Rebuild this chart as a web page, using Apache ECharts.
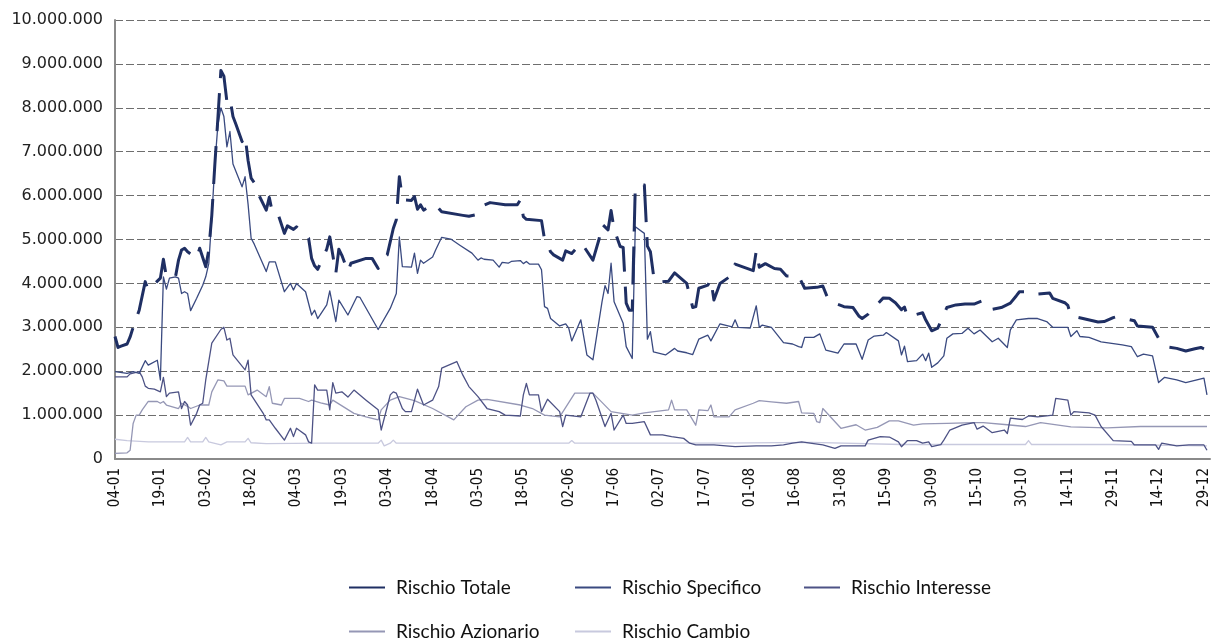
<!DOCTYPE html>
<html>
<head>
<meta charset="utf-8">
<script src="https://cdn.jsdelivr.net/npm/echarts@6/dist/echarts.min.js"></script>
<style>
  html, body { margin: 0; padding: 0; background: #ffffff; }
  #chart { width: 1212px; height: 639px; }
</style>
</head>
<body>
<div id="chart"></div>
<script>
// Giorni contati dal 04-01; valori in milioni di euro.
const UNIT = 1000000;

const tickLabels = ['04-01','19-01','03-02','18-02','04-03','19-03','03-04','18-04','03-05','18-05',
  '02-06','17-06','02-07','17-07','01-08','16-08','31-08','15-09','30-09','15-10','30-10','14-11',
  '29-11','14-12','29-12'];

const seriesNames = ['Rischio Totale','Rischio Specifico','Rischio Interesse','Rischio Azionario','Rischio Cambio'];

const totaleDays = [0,1,2,4,5,6,8,10,11,15,16,17,20,21,22,23,24,27,28,30,31,32,33,34,35,36,37,38,39,40,42,43,44,45,46,47,50,51,52,53,54,56,57,59,60,62,64,65,66,67,70,71,73,74,75,77,78,83,85,87,88,90,92,93,94,95,96,98,99,100,101,102,104,106,108,115,117,119,121,122,124,129,133,134,135,136,141,142,143,144,145,148,149,151,154,155,158,160,161,163,164,165,167,168,169,170,171,172,175,176,177,178,179,183,185,189,191,192,193,196,197,198,200,204,205,211,212,213,215,218,220,222,226,228,232,234,236,241,244,246,247,249,250,254,256,258,260,261,262,267,268,270,272,275,278,281,284,287,290,293,296,298,299,302,304,309,310,314,315,316,320,325,327,330,331,337,338,343,345,348,351,354,357,359,360];
const totaleValues = [2.79,2.54,2.57,2.62,2.78,3.00,3.39,4.04,3.85,4.12,4.55,4.15,4.15,4.53,4.76,4.80,4.72,4.57,4.80,4.38,4.76,5.55,6.70,7.75,8.85,8.72,8.14,8.22,7.80,7.62,7.23,7.36,6.80,6.40,6.30,6.09,5.67,5.96,5.62,5.63,5.56,5.14,5.31,5.23,5.29,5.16,5.03,4.57,4.40,4.32,4.78,5.06,4.23,4.78,4.64,4.27,4.46,4.57,4.57,4.34,4.50,4.65,5.25,5.45,6.43,5.94,5.90,5.89,5.98,5.69,5.79,5.67,5.75,5.79,5.63,5.55,5.53,5.56,5.63,5.78,5.84,5.79,5.79,5.90,5.52,5.46,5.43,5.00,4.88,4.72,4.65,4.53,4.74,4.68,4.91,4.84,4.53,5.00,5.35,5.22,5.66,5.23,4.84,4.82,3.55,3.39,3.39,6.20,6.24,4.85,4.72,4.20,4.02,4.05,4.24,4.00,3.45,3.47,3.89,3.96,4.09,3.62,4.00,4.19,4.44,4.29,4.74,4.37,4.45,4.34,4.32,4.17,4.17,3.89,3.91,3.94,3.60,3.47,3.45,3.25,3.20,3.30,3.38,3.67,3.66,3.56,3.40,3.46,3.24,3.33,3.17,2.92,2.98,3.45,3.51,3.53,3.53,3.61,3.41,3.45,3.55,3.72,3.81,3.81,3.75,3.78,3.66,3.56,3.50,3.26,3.20,3.12,3.13,3.22,3.24,3.15,3.03,3.00,2.75,2.55,2.52,2.46,2.51,2.54,2.51];

const specificoDays = [0,4,6,8,10,11,14,15,16,17,18,20,21,22,23,24,25,27,29,30,31,32,33,34,35,36,37,38,39,42,43,44,45,46,50,51,53,56,58,59,60,63,65,66,67,70,71,73,74,77,80,81,87,91,93,94,95,98,99,100,101,102,105,106,108,111,114,118,120,121,122,125,127,128,130,131,134,135,136,137,140,141,142,143,144,147,149,150,151,154,156,158,161,162,163,164,165,168,169,171,172,175,176,177,178,182,185,186,189,191,193,196,197,200,204,205,206,210,212,213,214,217,221,224,226,227,228,231,233,235,239,241,245,247,249,251,254,255,259,260,261,262,265,267,268,269,270,272,274,275,277,280,282,284,286,290,292,295,296,298,302,305,308,310,315,316,318,319,322,326,333,336,338,340,343,345,347,351,354,360,361];
const specificoValues = [1.99,1.95,1.99,1.95,2.24,2.14,2.25,1.80,4.15,3.87,4.12,4.15,4.12,3.77,3.81,3.77,3.38,3.66,3.96,4.15,4.45,5.50,6.70,7.60,8.00,7.80,7.11,7.46,6.72,6.20,6.43,5.80,5.03,4.90,4.27,4.49,4.49,3.81,4.00,3.85,4.00,3.81,3.28,3.39,3.20,3.51,3.83,3.13,3.62,3.28,3.70,3.68,2.95,3.43,3.77,5.06,4.38,4.37,4.69,4.23,4.53,4.46,4.60,4.76,5.05,5.01,4.87,4.69,4.53,4.58,4.55,4.53,4.37,4.48,4.46,4.50,4.52,4.45,4.50,4.44,4.44,4.31,3.47,3.43,3.20,3.03,3.08,2.98,2.69,3.17,2.37,2.26,3.58,3.95,3.77,4.46,3.58,3.09,2.56,2.29,5.29,5.14,2.73,2.90,2.44,2.37,2.52,2.46,2.42,2.38,2.73,2.82,2.69,3.08,3.01,3.17,3.00,2.98,3.49,3.00,3.05,3.00,2.65,2.62,2.56,2.54,2.77,2.77,2.85,2.48,2.41,2.62,2.62,2.27,2.71,2.80,2.82,2.88,2.69,2.37,2.57,2.22,2.24,2.39,2.24,2.41,2.09,2.19,2.35,2.75,2.85,2.86,2.98,2.85,2.94,2.67,2.75,2.54,2.94,3.17,3.20,3.20,3.13,3.00,3.00,2.79,2.92,2.79,2.77,2.67,2.60,2.56,2.33,2.39,2.35,1.74,1.86,1.80,1.74,1.84,1.46];

const interesseDays = [0,4,5,8,9,10,11,13,15,16,17,18,21,22,23,24,25,27,28,29,30,32,35,36,37,38,39,43,44,45,49,50,51,53,56,58,59,60,61,63,64,65,66,67,70,71,72,73,75,77,79,83,87,88,90,91,92,93,95,96,98,100,102,105,107,108,113,115,117,120,123,127,129,134,135,136,137,140,141,143,147,148,149,154,157,158,159,162,164,165,168,169,171,175,177,181,184,188,190,192,198,205,212,217,221,224,227,231,234,238,240,248,249,253,256,259,260,262,265,267,269,270,273,274,276,280,284,285,287,290,294,295,296,300,302,305,308,310,311,315,316,317,322,324,326,330,336,337,344,345,346,351,355,360,361];
const interesseValues = [1.87,1.87,1.94,1.99,1.87,1.66,1.61,1.59,1.53,1.86,1.42,1.50,1.53,1.15,1.31,1.23,0.77,1.04,1.23,1.27,1.80,2.64,2.95,3.00,2.71,2.75,2.37,2.03,2.25,1.46,1.04,0.89,0.89,0.70,0.43,0.70,0.51,0.70,0.65,0.55,0.39,0.36,1.69,1.57,1.57,1.12,1.74,1.50,1.53,1.41,1.57,1.34,1.12,0.66,1.19,1.46,1.53,1.50,1.15,1.08,1.08,1.59,1.23,1.34,1.65,2.07,2.22,1.91,1.65,1.42,1.15,1.08,1.00,0.98,1.46,1.72,1.46,1.46,1.08,1.36,1.08,0.74,1.00,0.96,1.50,1.50,1.34,0.74,1.04,0.66,1.00,0.81,0.81,0.85,0.55,0.55,0.51,0.47,0.36,0.32,0.32,0.28,0.30,0.30,0.32,0.36,0.39,0.35,0.32,0.24,0.30,0.30,0.43,0.51,0.50,0.39,0.28,0.42,0.42,0.36,0.39,0.28,0.33,0.43,0.66,0.77,0.83,0.68,0.75,0.60,0.66,0.58,0.93,0.90,0.98,0.96,0.98,1.00,1.38,1.34,1.00,1.08,1.05,1.00,0.74,0.42,0.40,0.32,0.32,0.22,0.36,0.30,0.32,0.32,0.20];

const azionarioDays = [0,4,5,6,7,8,9,11,14,15,16,17,21,22,24,25,28,31,32,34,36,37,43,44,47,50,51,52,55,56,61,64,65,68,71,72,79,83,87,88,91,94,99,105,112,116,120,123,134,138,142,147,152,158,164,171,175,183,184,185,189,192,193,196,197,198,203,205,211,213,217,222,226,227,231,232,233,234,240,245,248,252,256,259,264,267,275,284,287,295,301,306,316,328,339,361];
const azionarioValues = [0.13,0.14,0.20,0.81,1.00,1.00,1.12,1.31,1.31,1.27,1.31,1.23,1.15,1.27,1.20,1.15,1.23,1.23,1.53,1.80,1.78,1.66,1.66,1.46,1.57,1.42,1.65,1.27,1.23,1.38,1.38,1.31,1.34,1.28,1.23,1.34,1.04,0.96,0.89,1.12,1.34,1.42,1.33,1.15,0.89,1.19,1.34,1.36,1.23,1.15,1.00,0.96,1.50,1.50,1.08,1.00,1.05,1.12,1.34,1.12,1.12,0.77,1.12,1.10,1.23,0.96,0.96,1.12,1.27,1.33,1.30,1.27,1.31,1.05,1.04,0.85,0.83,1.15,0.70,0.78,0.66,0.72,0.87,0.87,0.77,0.80,0.81,0.83,0.83,0.78,0.74,0.83,0.73,0.71,0.74,0.74];

const cambioDays = [0,4,11,23,24,25,29,30,31,35,37,43,44,45,50,68,87,88,89,91,92,93,150,151,152,200,230,260,301,302,303,330,361];
const cambioValues = [0.45,0.42,0.39,0.39,0.49,0.39,0.39,0.49,0.39,0.32,0.39,0.39,0.47,0.37,0.35,0.36,0.36,0.43,0.30,0.36,0.43,0.36,0.36,0.42,0.36,0.36,0.38,0.33,0.33,0.42,0.33,0.33,0.30];

function pairs(days, values) {
  return days.map((d, i) => [d, values[i] * UNIT]);
}

function withDots(n) {
  return String(Math.round(n)).replace(/\B(?=(\d{3})+(?!\d))/g, '.');
}

const colors = ['#1f2f63', '#3a4a80', '#4d5285', '#9597b5', '#c8c9de'];
const widths = [3, 1.3, 1.3, 1.3, 1.3];
const dataSets = [
  pairs(totaleDays, totaleValues),
  pairs(specificoDays, specificoValues),
  pairs(interesseDays, interesseValues),
  pairs(azionarioDays, azionarioValues),
  pairs(cambioDays, cambioValues)
];

const legendFont = { fontFamily: 'Lato', fontSize: 19, color: '#111' };
const legendSpots = [
  { left: 343, top: 573 }, { left: 569, top: 573 }, { left: 798, top: 573 },
  { left: 343, top: 617 }, { left: 569, top: 617 }
];

const chart = echarts.init(document.getElementById('chart'), null, { renderer: 'canvas' });
chart.setOption({
  animation: false,
  backgroundColor: '#ffffff',
  grid: { left: 115, right: 2, top: 20, bottom: 180, containLabel: false },
  legend: seriesNames.map((name, i) => ({
    show: true,
    orient: 'horizontal',
    data: [name],
    left: legendSpots[i].left,
    top: legendSpots[i].top,
    itemWidth: 36,
    itemHeight: 14,
    itemStyle: { opacity: 0 },
    lineStyle: { type: 'solid', opacity: 1 },
    textStyle: Object.assign({ padding: [0, 0, 0, 6] }, legendFont),
    selectedMode: false
  })),
  xAxis: {
    type: 'value',
    min: 0,
    max: 362,
    interval: 15,
    axisLine: { show: true, lineStyle: { color: '#8a8a8a', width: 2 } },
    axisTick: { show: false },
    splitLine: { show: false },
    axisLabel: {
      rotate: 90,
      margin: 9,
      fontFamily: 'Liberation Sans Narrow, DejaVu Sans Condensed, sans-serif',
      fontSize: 15,
      color: '#111',
      showMaxLabel: false,
      formatter: v => (v % 15 === 0 ? (tickLabels[v / 15] || '') : '')
    }
  },
  yAxis: {
    type: 'value',
    min: 0,
    max: 10 * UNIT,
    interval: UNIT,
    axisLine: { show: true, lineStyle: { color: '#8a8a8a', width: 2 } },
    axisTick: { show: false },
    splitLine: { show: true, lineStyle: { color: '#6e6e6e', width: 1.2, type: [8, 3] } },
    axisLabel: {
      margin: 12,
      fontFamily: 'DejaVu Sans',
      fontSize: 16,
      color: '#222',
      formatter: v => withDots(v)
    }
  },
  series: seriesNames.map((name, i) => ({
    name: name,
    type: 'line',
    data: dataSets[i],
    symbol: 'none',
    showSymbol: false,
    z: 10 - i,
    lineStyle: {
      color: colors[i],
      width: widths[i],
      type: i === 0 ? [38, 15] : 'solid',
      cap: 'butt',
      join: 'round'
    },
    itemStyle: { color: colors[i] }
  }))
});
</script>
</body>
</html>
